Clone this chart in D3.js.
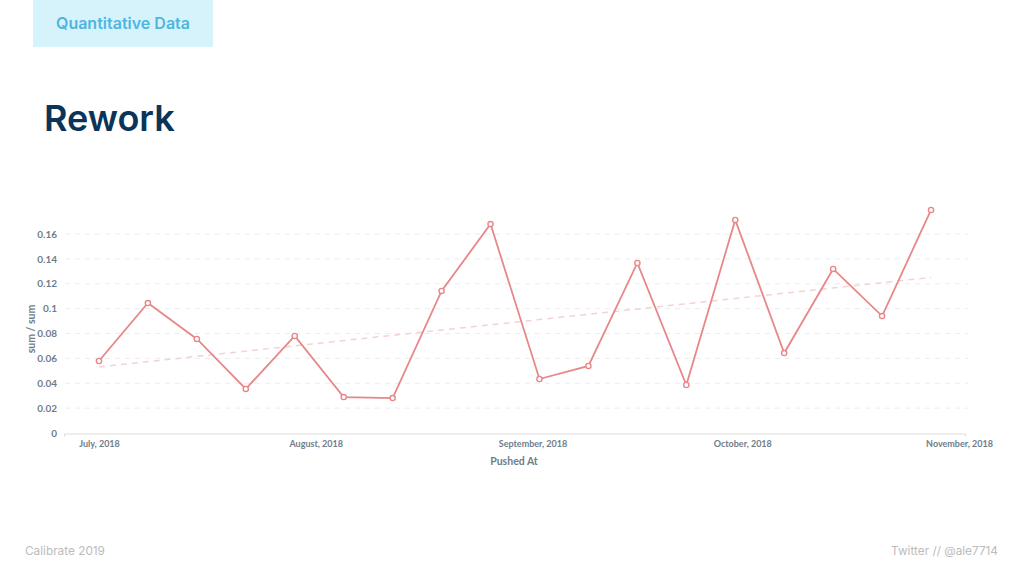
<!DOCTYPE html>
<html><head><meta charset="utf-8">
<script src="https://cdn.jsdelivr.net/npm/d3@7"></script>
<style>
body{margin:0;background:#fff;}
svg{display:block;}
</style></head>
<body>
<svg id="c" width="1024" height="576"></svg>
<script>
const dates = ["2018-07-01","2018-07-08","2018-07-15","2018-07-22","2018-07-29","2018-08-05","2018-08-12","2018-08-19","2018-08-26","2018-09-02","2018-09-09","2018-09-16","2018-09-23","2018-09-30","2018-10-07","2018-10-14","2018-10-21","2018-10-28"];
const values = [0.0579,0.1045,0.0756,0.0354,0.078,0.0289,0.0281,0.1142,0.168,0.0434,0.0539,0.1367,0.0386,0.1713,0.0643,0.1319,0.094,0.1793];
const yTicks = [0,0.02,0.04,0.06,0.08,0.1,0.12,0.14,0.16];
const xTicks = ["2018-07-01","2018-08-01","2018-09-01","2018-10-01","2018-11-01"];
const xTickLabels = ["July, 2018","August, 2018","September, 2018","October, 2018","November, 2018"];

const parse = d3.timeParse("%Y-%m-%d");
const data = dates.map((d,i)=>({date:parse(d), v:values[i]}));

const svg = d3.select("#c");
const chartFont = "Lato, 'Open Sans', sans-serif";

// header box
svg.append("rect").attr("x",33).attr("y",0).attr("width",180).attr("height",47).attr("fill","#d6f3fb");
svg.append("text").attr("x",123).attr("y",29).attr("text-anchor","middle")
  .attr("font-family","Inter, 'Open Sans', sans-serif").attr("font-weight",600).attr("font-size",16)
  .attr("fill","#4fb5e0").text("Quantitative Data");
svg.append("text").attr("x",44).attr("y",131)
  .attr("font-family","Inter, 'Open Sans', sans-serif").attr("font-weight",600).attr("font-size",36)
  .attr("fill","#0b3558").text("Rework");

// footer
svg.append("text").attr("x",25).attr("y",555).attr("font-family","Inter, 'Open Sans', sans-serif")
  .attr("font-size",11.8).attr("fill","#bcbcbc").text("Calibrate 2019");
svg.append("text").attr("x",998).attr("y",555).attr("text-anchor","end").attr("font-family","Inter, 'Open Sans', sans-serif")
  .attr("font-size",11.8).attr("fill","#bcbcbc").text("Twitter // @ale7714");

// scales
const x = d3.scaleTime().domain([parse("2018-06-26"), parse("2018-11-02")]).range([64,966]);
const y = d3.scaleLinear().domain([0,0.16]).range([433,234]);

// grid
const g = svg.append("g");
g.selectAll("line.grid").data(yTicks.slice(1)).join("line")
  .attr("x1",65).attr("x2",968).attr("y1",d=>y(d)).attr("y2",d=>y(d))
  .attr("stroke","#ececec").attr("stroke-dasharray","5,5").attr("stroke-width",1);

// y axis labels
const yAxis = svg.append("g").attr("transform","translate(64,0)")
  .call(d3.axisLeft(y).tickValues(yTicks).tickFormat(d=>d===0?"0":String(+d.toFixed(2))).tickSize(0).tickPadding(7));
yAxis.select(".domain").remove();
yAxis.selectAll("text").attr("font-family",chartFont).attr("font-weight",700).attr("font-size",10).attr("fill","#6f7d89");

// x axis
const xAxis = svg.append("g").attr("transform","translate(0,433.5)")
  .call(d3.axisBottom(x).tickValues(xTicks.map(parse)).tickFormat((d,i)=>xTickLabels[i]).tickSize(0).tickPadding(7));
xAxis.select(".domain").attr("stroke","#dcdcdc").attr("d","M64.5,3V0.5H965.5V3");
xAxis.selectAll("text").attr("font-family",chartFont).attr("font-weight",700).attr("font-size",9).attr("fill","#6f7d89");

// axis titles
svg.append("text").attr("x",514).attr("y",465).attr("text-anchor","middle")
  .attr("font-family",chartFont).attr("font-weight",700).attr("font-size",10.5).attr("fill","#6f7d89").text("Pushed At");
svg.append("text").attr("transform","translate(35,329) rotate(-90)").attr("text-anchor","middle")
  .attr("font-family",chartFont).attr("font-weight",700).attr("font-size",10.5).attr("fill","#6f7d89").text("sum / sum");

// trend line (least squares)
const xs = data.map(d=>+d.date), ys = data.map(d=>d.v);
const mx = d3.mean(xs), my = d3.mean(ys);
const slope = d3.sum(xs.map((xv,i)=>(xv-mx)*(ys[i]-my)))/d3.sum(xs.map(xv=>(xv-mx)**2));
const icpt = my - slope*mx;
const ends = [data[0].date, data[data.length-1].date];
svg.append("line")
  .attr("x1",x(ends[0])).attr("y1",y(icpt+slope*+ends[0]))
  .attr("x2",x(ends[1])).attr("y2",y(icpt+slope*+ends[1]))
  .attr("stroke","#f4d3d3").attr("stroke-width",1.5).attr("stroke-dasharray","6,5");

// line
const col = "#e8878a";
svg.append("path").datum(data)
  .attr("d",d3.line().x(d=>x(d.date)).y(d=>y(d.v)))
  .attr("fill","none").attr("stroke",col).attr("stroke-width",1.8);
svg.selectAll("circle.pt").data(data).join("circle")
  .attr("cx",d=>x(d.date)).attr("cy",d=>y(d.v)).attr("r",2.6)
  .attr("fill","#fff").attr("stroke",col).attr("stroke-width",1.4);
</script>
</body></html>
